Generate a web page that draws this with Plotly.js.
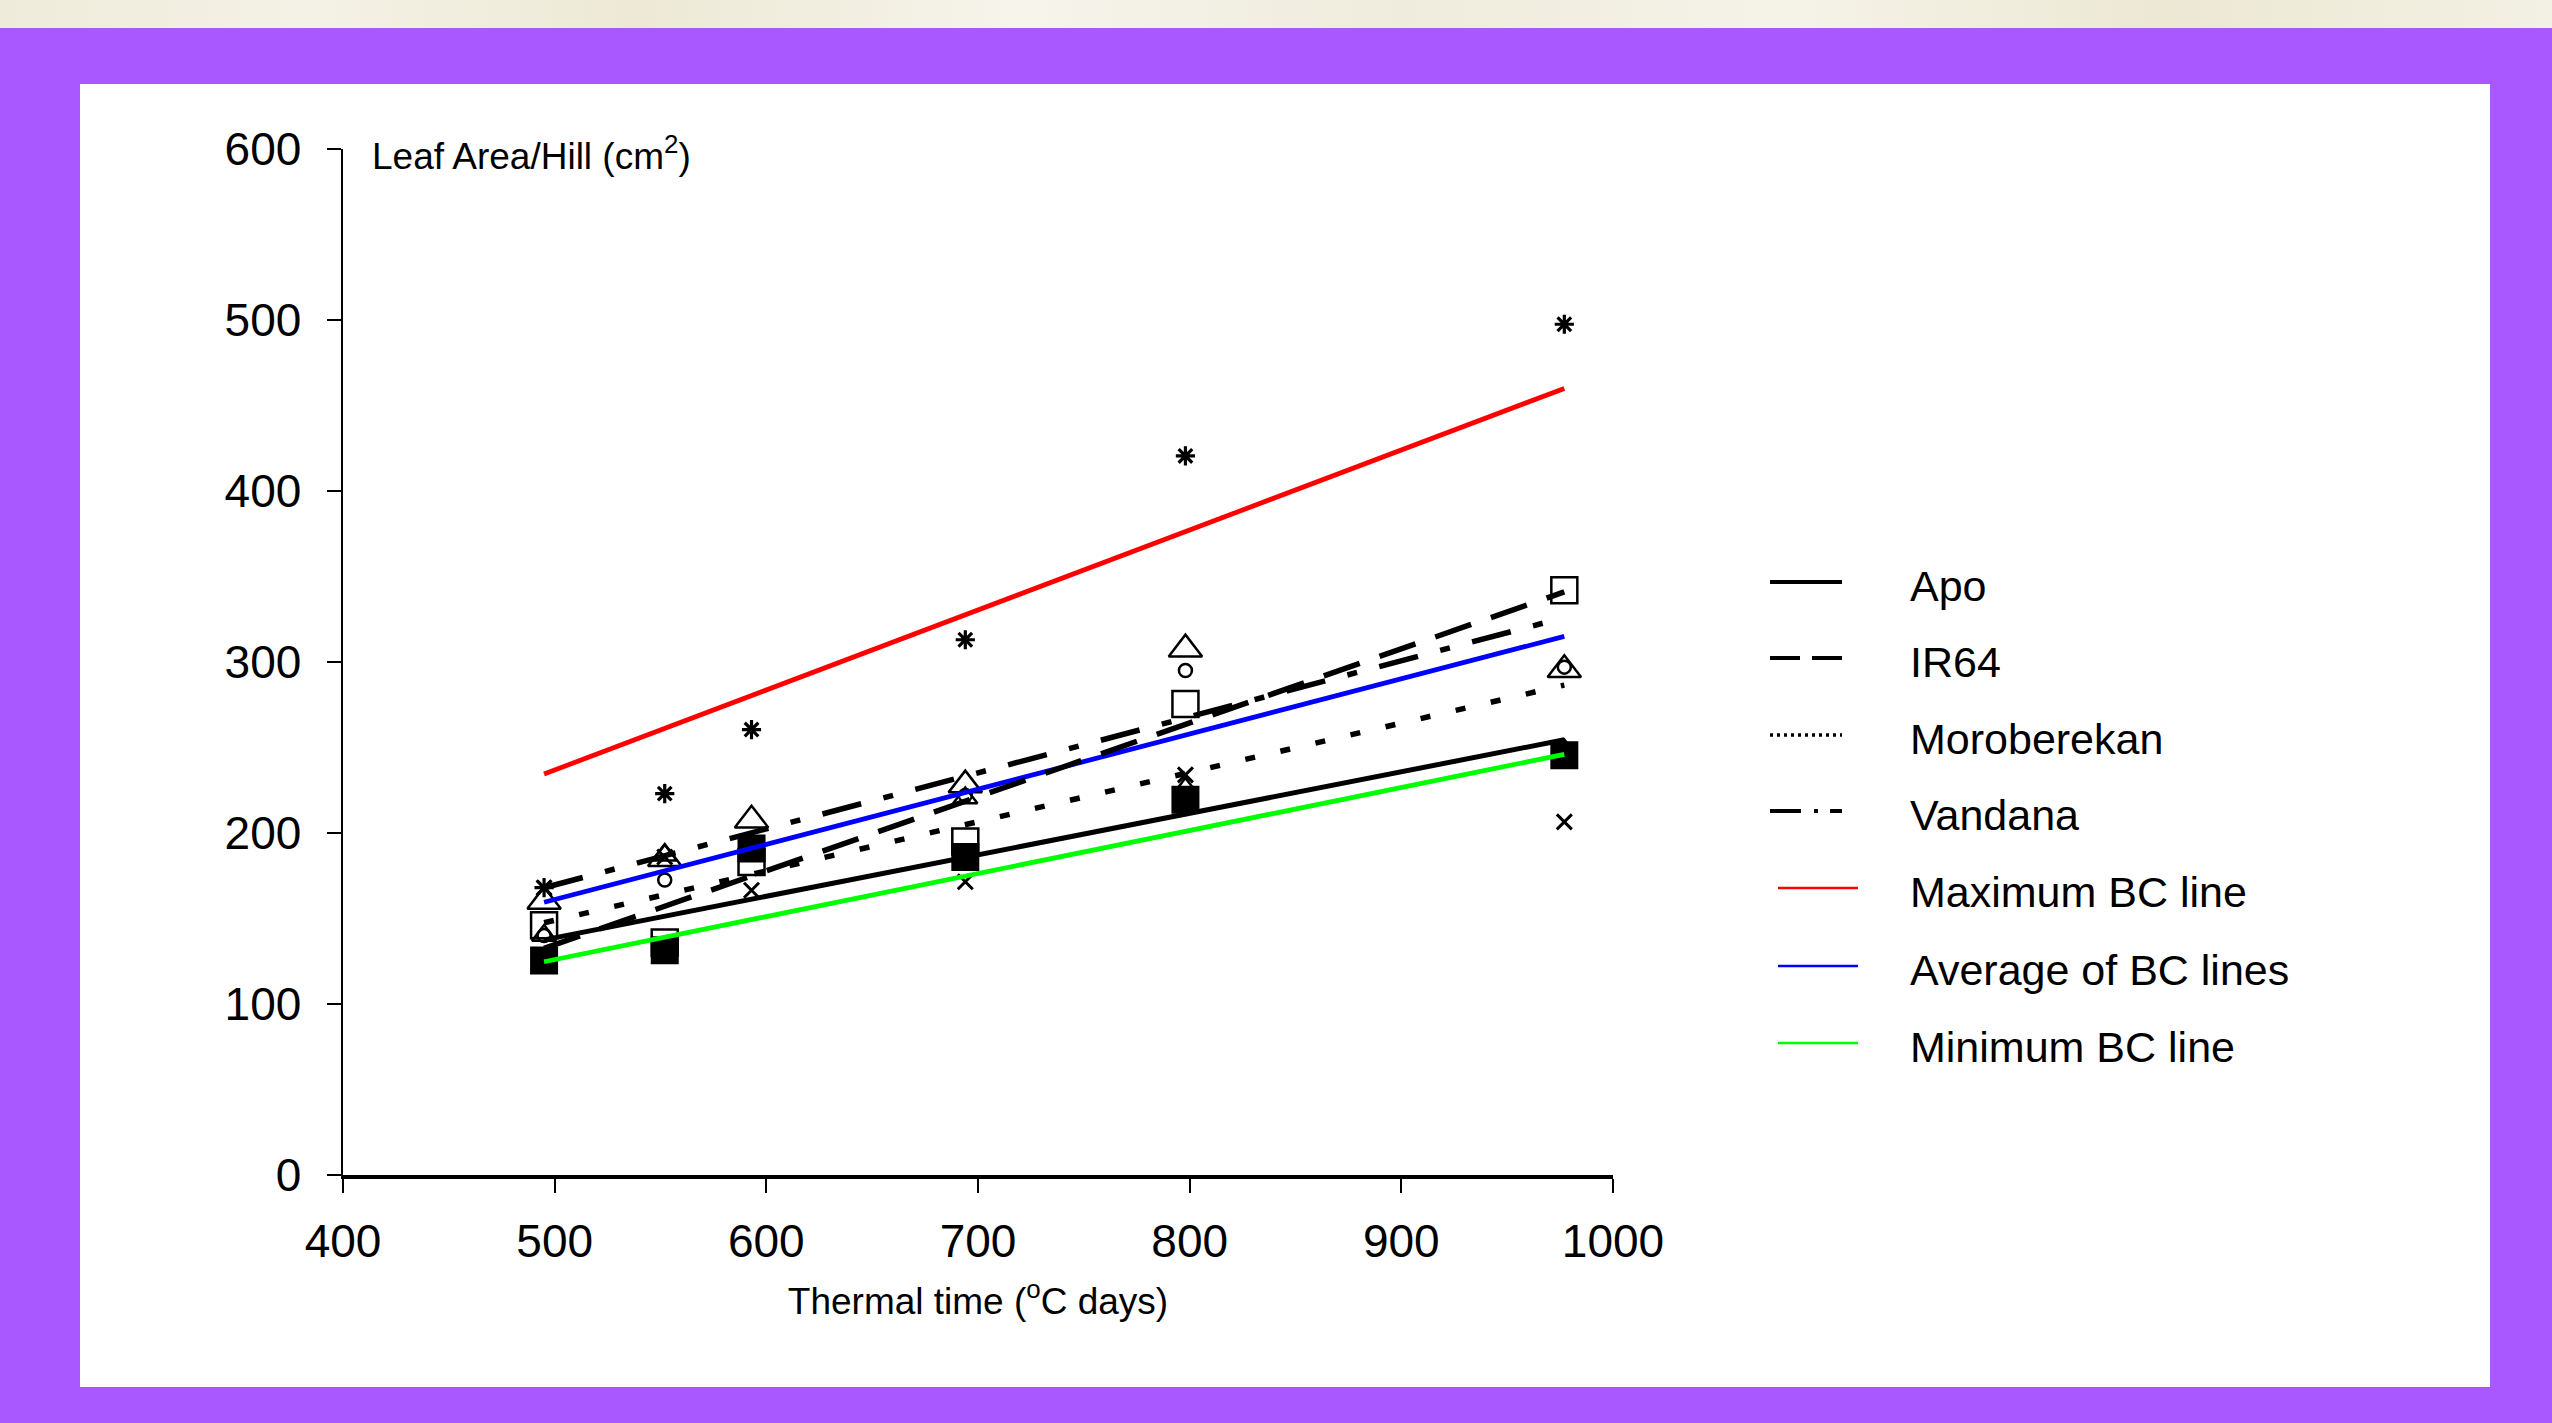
<!DOCTYPE html>
<html>
<head>
<meta charset="utf-8">
<script src="https://cdn.plot.ly/plotly-3.0.1.min.js"></script>
<style>
html,body{margin:0;padding:0;}
body{width:2552px;height:1423px;position:relative;overflow:hidden;background:#A958FF;}
#tex{position:absolute;left:0;top:0;width:2552px;height:28px;
 background:linear-gradient(90deg,#EEEBDA 0%,#F4F2E6 12%,#EDE9D6 25%,#F6F4EB 40%,#EFECDD 55%,#F5F3E8 70%,#ECE8D4 85%,#F3F1E4 100%);}
#panel{position:absolute;left:80px;top:84px;width:2410px;height:1303px;background:#ffffff;}
#chart{position:absolute;left:0;top:0;width:2552px;height:1423px;}
</style>
</head>
<body>
<div id="tex"></div>
<div id="panel"></div>
<div id="chart"></div>
<script>
// ---- observed points (thermal time, leaf area per hill) ----
const thermalTime   = [495, 552, 593, 694, 798, 977];
const filledSquare  = [125.5, 131.5, 191, 186, 219.5, 245.5];
const openSquare    = [146, 136, 183, 195, 275.5, 342];
const openTriangle  = [160, 185, 207.5, 228, 307.5, 295.5];
const smallTriangle = [140, 187, 190, 220.5, 226, 248.5];
const openCircle    = [140, 172.5, 190, 222, 295, 297];
const crossMark     = [168, 186, 166.5, 171.5, 234, 206.5];
const asteriskMark  = [168, 223, 260.5, 313, 420.5, 497.5];

// ---- fitted lines (start / end thermal time) ----
const lineX       = [495, 977];
const apo         = [137.5, 254.5];
const ir64        = [132.5, 341];
const moroberekan = [147.5, 286.5];
const vandana     = [168, 326];
const maxBC       = [234.5, 460];
const avgBC       = [159.5, 315];
const minBC       = [124.7, 246];

// ---- axis ticks / labels ----
const xTicks = [400, 500, 600, 700, 800, 900, 1000];
const yTicks = [0, 100, 200, 300, 400, 500, 600];
const legendLabels = ['Apo', 'IR64', 'Moroberekan', 'Vandana', 'Maximum BC line', 'Average of BC lines', 'Minimum BC line'];

const FONT = 'Liberation Sans, Arial, Helvetica, sans-serif';

const markerSeries = [
  {y: filledSquare,  symbol: 'square',           size: 26, color: '#000', lw: 2},
  {y: openSquare,    symbol: 'square-open',      size: 26, color: '#000', lw: 2.5},
  {y: openTriangle,  symbol: 'triangle-up-open', size: 29, color: '#000', lw: 2.5},
  {y: smallTriangle, symbol: 'triangle-up-open', size: 21, color: '#000', lw: 2.5},
  {y: openCircle,    symbol: 'circle-open',      size: 13, color: '#000', lw: 2.5},
  {y: crossMark,     symbol: 'x-thin-open',      size: 15, color: '#000', lw: 3},
  {y: asteriskMark,  symbol: 'asterisk-open',    size: 16, color: '#000', lw: 3.2}
];

const lineSeries = [
  {name: legendLabels[4], y: maxBC,       color: '#FF0000', dash: 'solid', width: 4.8, lgDash: 'solid', lgWidth: 2.5},
  {name: legendLabels[5], y: avgBC,       color: '#0000FF', dash: 'solid', width: 4.8, lgDash: 'solid', lgWidth: 2.5},
  {name: legendLabels[6], y: minBC,       color: '#00FF00', dash: 'solid', width: 4.8, lgDash: 'solid', lgWidth: 2.5},
  {name: legendLabels[0], y: apo,         color: '#000000', dash: 'solid', width: 5, lgDash: 'solid', lgWidth: 4},
  {name: legendLabels[1], y: ir64,        color: '#000000', dash: '38px,21px', width: 5.5, lgDash: '30px,12px', lgWidth: 4},
  {name: legendLabels[2], y: moroberekan, color: '#000000', dash: '10px,26px', width: 5.5, lgDash: '3px,4px', lgWidth: 3.5},
  {name: legendLabels[3], y: vandana,     color: '#000000', dash: '40px,23px,10px,23px', width: 5.5, lgDash: '31px,13px,4px,12px,14px,30px', lgWidth: 4}
];

const traces = [];
markerSeries.forEach(m => {
  traces.push({
    type: 'scatter', mode: 'markers', x: thermalTime, y: m.y,
    marker: {symbol: m.symbol, size: m.size, color: m.color, line: {color: m.color, width: m.lw}},
    showlegend: false, hoverinfo: 'skip', cliponaxis: false
  });
});
lineSeries.forEach(s => {
  traces.push({
    type: 'scatter', mode: 'lines', name: s.name, x: lineX, y: s.y,
    line: {color: s.color, dash: s.dash, width: s.width},
    showlegend: false, hoverinfo: 'skip'
  });
});

// plot area in pixels: x 343..1613, y 149..1175
const L = 343, R = 1613, T = 149, B = 1175;
const px2x = p => (p - L) / (R - L);
const py2y = p => (B - p) / (B - T);

// custom legend (long line samples like the original)
const legendRowsY = [586, 662, 739, 815, 892, 970, 1047];
const shapes = [];
const annotations = [];
legendLabels.forEach((lab, i) => {
  const s = lineSeries.find(d => d.name === lab);
  const ly = legendRowsY[i] - 4;
  const x0 = s.color === '#000000' ? 1770 : 1778;
  const x1 = s.color === '#000000' ? 1842 : 1858;
  shapes.push({type: 'line', xref: 'paper', yref: 'paper',
    x0: px2x(x0), x1: px2x(x1), y0: py2y(ly), y1: py2y(ly),
    line: {color: s.color, width: s.lgWidth, dash: s.lgDash}});
  annotations.push({xref: 'paper', yref: 'paper', x: px2x(1908), y: py2y(legendRowsY[i]),
    xanchor: 'left', yanchor: 'middle', showarrow: false, text: lab,
    font: {family: FONT, size: 43, color: '#000'}});
});
annotations.push({xref: 'paper', yref: 'paper', x: px2x(370), y: py2y(153),
  xanchor: 'left', yanchor: 'middle', showarrow: false,
  text: 'Leaf Area/Hill (cm<sup>2</sup>)', font: {family: FONT, size: 37, color: '#000'}});

const layout = {
  width: 2552, height: 1423,
  paper_bgcolor: 'rgba(0,0,0,0)', plot_bgcolor: 'rgba(0,0,0,0)',
  margin: {l: L, r: 2552 - R, t: T, b: 1423 - B, pad: 0},
  showlegend: false,
  font: {family: FONT, color: '#000'},
  xaxis: {
    range: [400, 1000], tickvals: xTicks, ticktext: xTicks.map(String),
    showgrid: false, zeroline: false, showline: true, linecolor: '#000', linewidth: 3.5,
    ticks: 'outside', ticklen: 14, tickwidth: 2, tickcolor: '#000',
    tickfont: {family: FONT, size: 46, color: '#000'}, ticklabelstandoff: 9,
    title: {text: 'Thermal time (<sup>o</sup>C days)', font: {family: FONT, size: 37, color: '#000'}, standoff: 23},
    fixedrange: true
  },
  yaxis: {
    range: [0, 600], tickvals: yTicks, ticktext: yTicks.map(String),
    showgrid: false, zeroline: false, showline: true, linecolor: '#000', linewidth: 2.5,
    ticks: 'outside', ticklen: 14, tickwidth: 2, tickcolor: '#000',
    tickfont: {family: FONT, size: 46, color: '#000'}, ticklabelstandoff: 16,
    fixedrange: true
  },
  shapes: shapes,
  annotations: annotations
};

Plotly.newPlot('chart', traces, layout, {displayModeBar: false, staticPlot: true});
</script>
</body>
</html>
